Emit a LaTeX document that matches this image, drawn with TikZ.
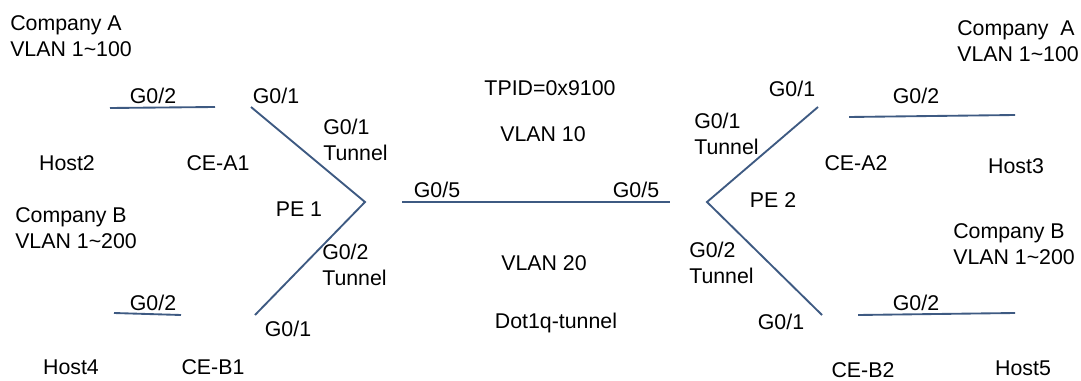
\documentclass[tikz,border=0pt]{standalone}
\usepackage{fontspec}
\setmainfont{Liberation Sans}
\usepackage{tikz}
\tikzset{>=latex}
\definecolor{LinkBlue}{RGB}{62,90,130}
\tikzset{
  link/.style={draw=LinkBlue, line width=1.4pt},
  lbl/.style={inner sep=0pt, font=\fontsize{16}{19}\selectfont, align=left},
}

\begin{document}
\begin{tikzpicture}[x=0.75pt,y=-0.75pt]
        \useasboundingbox (0,0) rectangle (1081,381);
        % customer sites and hosts
        \node[lbl,anchor=west] (siteAL) at (10,36) {Company A\\VLAN 1\textasciitilde 100};
        \node[lbl,anchor=west] (siteBL) at (15,228) {Company B\\VLAN 1\textasciitilde 200};
        \node[lbl,anchor=west] (siteAR) at (957,41) {Company\ \ A\\VLAN 1\textasciitilde 100};
        \node[lbl,anchor=west] (siteBR) at (953,244) {Company B\\VLAN 1\textasciitilde 200};
        \node[lbl] (host2) at (67,163) {Host2};
        \node[lbl] (host4) at (71,367) {Host4};
        \node[lbl] (host3) at (1016,166) {Host3};
        \node[lbl] (host5) at (1023,368) {Host5};
        \node[lbl] (ceA1) at (218,163) {CE-A1};
        \node[lbl] (ceB1) at (213,367) {CE-B1};
        \node[lbl] (ceA2) at (856,163) {CE-A2};
        \node[lbl] (ceB2) at (863,370) {CE-B2};
        \node[lbl] (pe1) at (299,209) {PE 1};
        \node[lbl] (pe2) at (773,200) {PE 2};
        % core
        \node[lbl] (tpid) at (550,88) {TPID=0x9100};
        \node[lbl] (vlan10) at (543,134) {VLAN 10};
        \node[lbl] (vlan20) at (544,263) {VLAN 20};
        \node[lbl] (qinq) at (556,323) {Dot1q-tunnel};
        % link end points
        \coordinate (h2) at (110,108);  \coordinate (a1) at (215,107);
        \coordinate (h4) at (114,313);  \coordinate (b1) at (181,315);
        \coordinate (a1p) at (251,107); \coordinate (p1) at (365,202); \coordinate (b1p) at (255,315);
        \coordinate (c1) at (402,202);  \coordinate (c2) at (670,202);
        \coordinate (a2p) at (818,107); \coordinate (p2) at (707,202); \coordinate (b2p) at (822,315);
        \coordinate (a2) at (849,117);  \coordinate (h3) at (1015,115);
        \coordinate (b2) at (858,315);  \coordinate (h5) at (1015,313);
        \draw[link] (h2) -- (a1);
        \draw[link] (h4) -- (b1);
        \draw[link] (a1p) -- (p1) -- (b1p);
        \draw[link] (c1) -- (c2);
        \draw[link] (a2p) -- (p2) -- (b2p);
        \draw[link] (a2) -- (h3);
        \draw[link] (b2) -- (h5);
        % port names
        \node[lbl] (pAh2) at (153,96) {G0/2};
        \node[lbl] (pBh4) at (153,303) {G0/2};
        \node[lbl] (pA1) at (276,96) {G0/1};
        \node[lbl] (pB1) at (288,329) {G0/1};
        \node[lbl,anchor=west] (t11) at (323,140) {G0/1\\Tunnel};
        \node[lbl,anchor=west] (t12) at (322,265) {G0/2\\Tunnel};
        \node[lbl] (p15) at (437,190) {G0/5};
        \node[lbl] (p25) at (636,190) {G0/5};
        \node[lbl,anchor=west] (t21) at (694,134) {G0/1\\Tunnel};
        \node[lbl,anchor=west] (t22) at (689,263) {G0/2\\Tunnel};
        \node[lbl] (pA2) at (792,89) {G0/1};
        \node[lbl] (pB2) at (781,322) {G0/1};
        \node[lbl] (pAh3) at (916,96) {G0/2};
        \node[lbl] (pBh5) at (916,303) {G0/2};
\end{tikzpicture}
\end{document}
